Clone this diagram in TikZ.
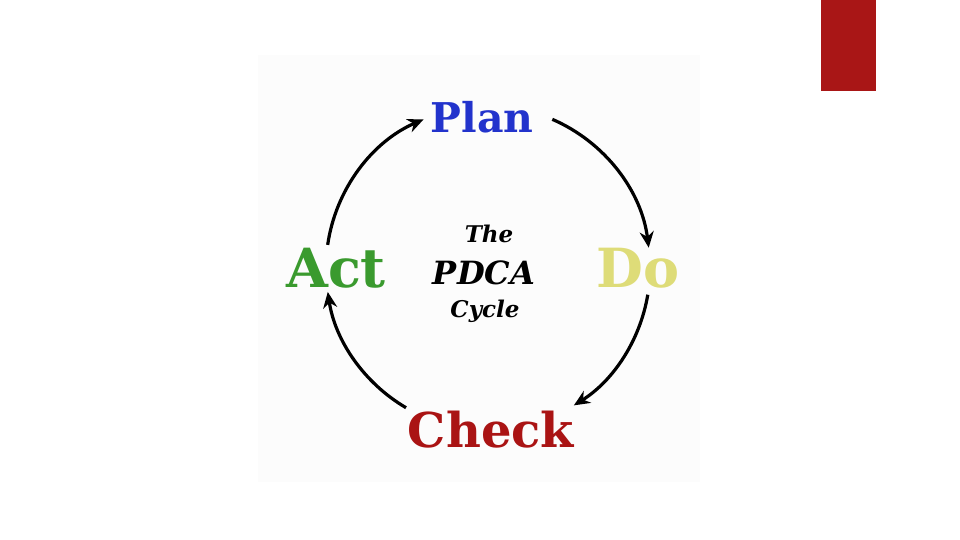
\documentclass[tikz,border=0pt]{standalone}
\usepackage{fontspec}
\setmainfont{DejaVu Serif}
\usetikzlibrary{arrows.meta}
\definecolor{planblue}{HTML}{2233CC}
\definecolor{actgreen}{HTML}{3A9A2E}
\definecolor{doyellow}{HTML}{DEDC78}
\definecolor{checkred}{HTML}{AA1414}
\definecolor{barred}{HTML}{A91616}
\definecolor{panel}{HTML}{FCFCFC}
\tikzset{
  word/.style={anchor=base, inner sep=0pt, font=\bfseries},
  mid/.style={anchor=base, inner sep=0pt, font=\bfseries\itshape},
  cyc/.style={line width=3.2pt, -{Stealth[length=16pt,width=14pt]}}
}
\begin{document}
\begin{tikzpicture}[x=1pt,y=1pt]
\useasboundingbox (0,0) rectangle (960,540);
\fill[white] (0,0) rectangle (960,540);
\fill[panel] (258,58) rectangle (700,485);
\fill[barred] (821,449) rectangle (876,540);
\node[word, text=planblue, font=\bfseries\fontsize{41}{41}\selectfont] (plan) at (482,407) {Plan};
\node[word, text=actgreen, font=\bfseries\fontsize{54}{54}\selectfont] (act) at (336,252) {Act};
\node[word, text=doyellow, font=\bfseries\fontsize{54}{54}\selectfont] (do) at (638,252) {Do};
\node[word, text=checkred, font=\bfseries\fontsize{48}{48}\selectfont] (check) at (491,92) {Check};
\node[mid, font=\bfseries\itshape\fontsize{23}{23}\selectfont] (the) at (489,297) {The};
\node[mid, font=\bfseries\itshape\fontsize{32}{32}\selectfont] (pdca) at (484,255) {PDCA};
\node[mid, font=\bfseries\itshape\fontsize{23}{23}\selectfont] (cycle) at (485,222) {Cycle};
\coordinate (c) at (488,272);
\draw[cyc] ([shift={(66.6:162)}]c) arc[start angle=66.6, end angle=7.2, radius=162];
\draw[cyc] ([shift={(-9.5:162)}]c) arc[start angle=-9.5, end angle=-58, radius=162];
\draw[cyc] ([shift={(-120.4:162)}]c) arc[start angle=-120.4, end angle=-171.5, radius=162];
\draw[cyc] ([shift={(171.8:162)}]c) arc[start angle=171.8, end angle=113.4, radius=162];
\end{tikzpicture}
\end{document}
